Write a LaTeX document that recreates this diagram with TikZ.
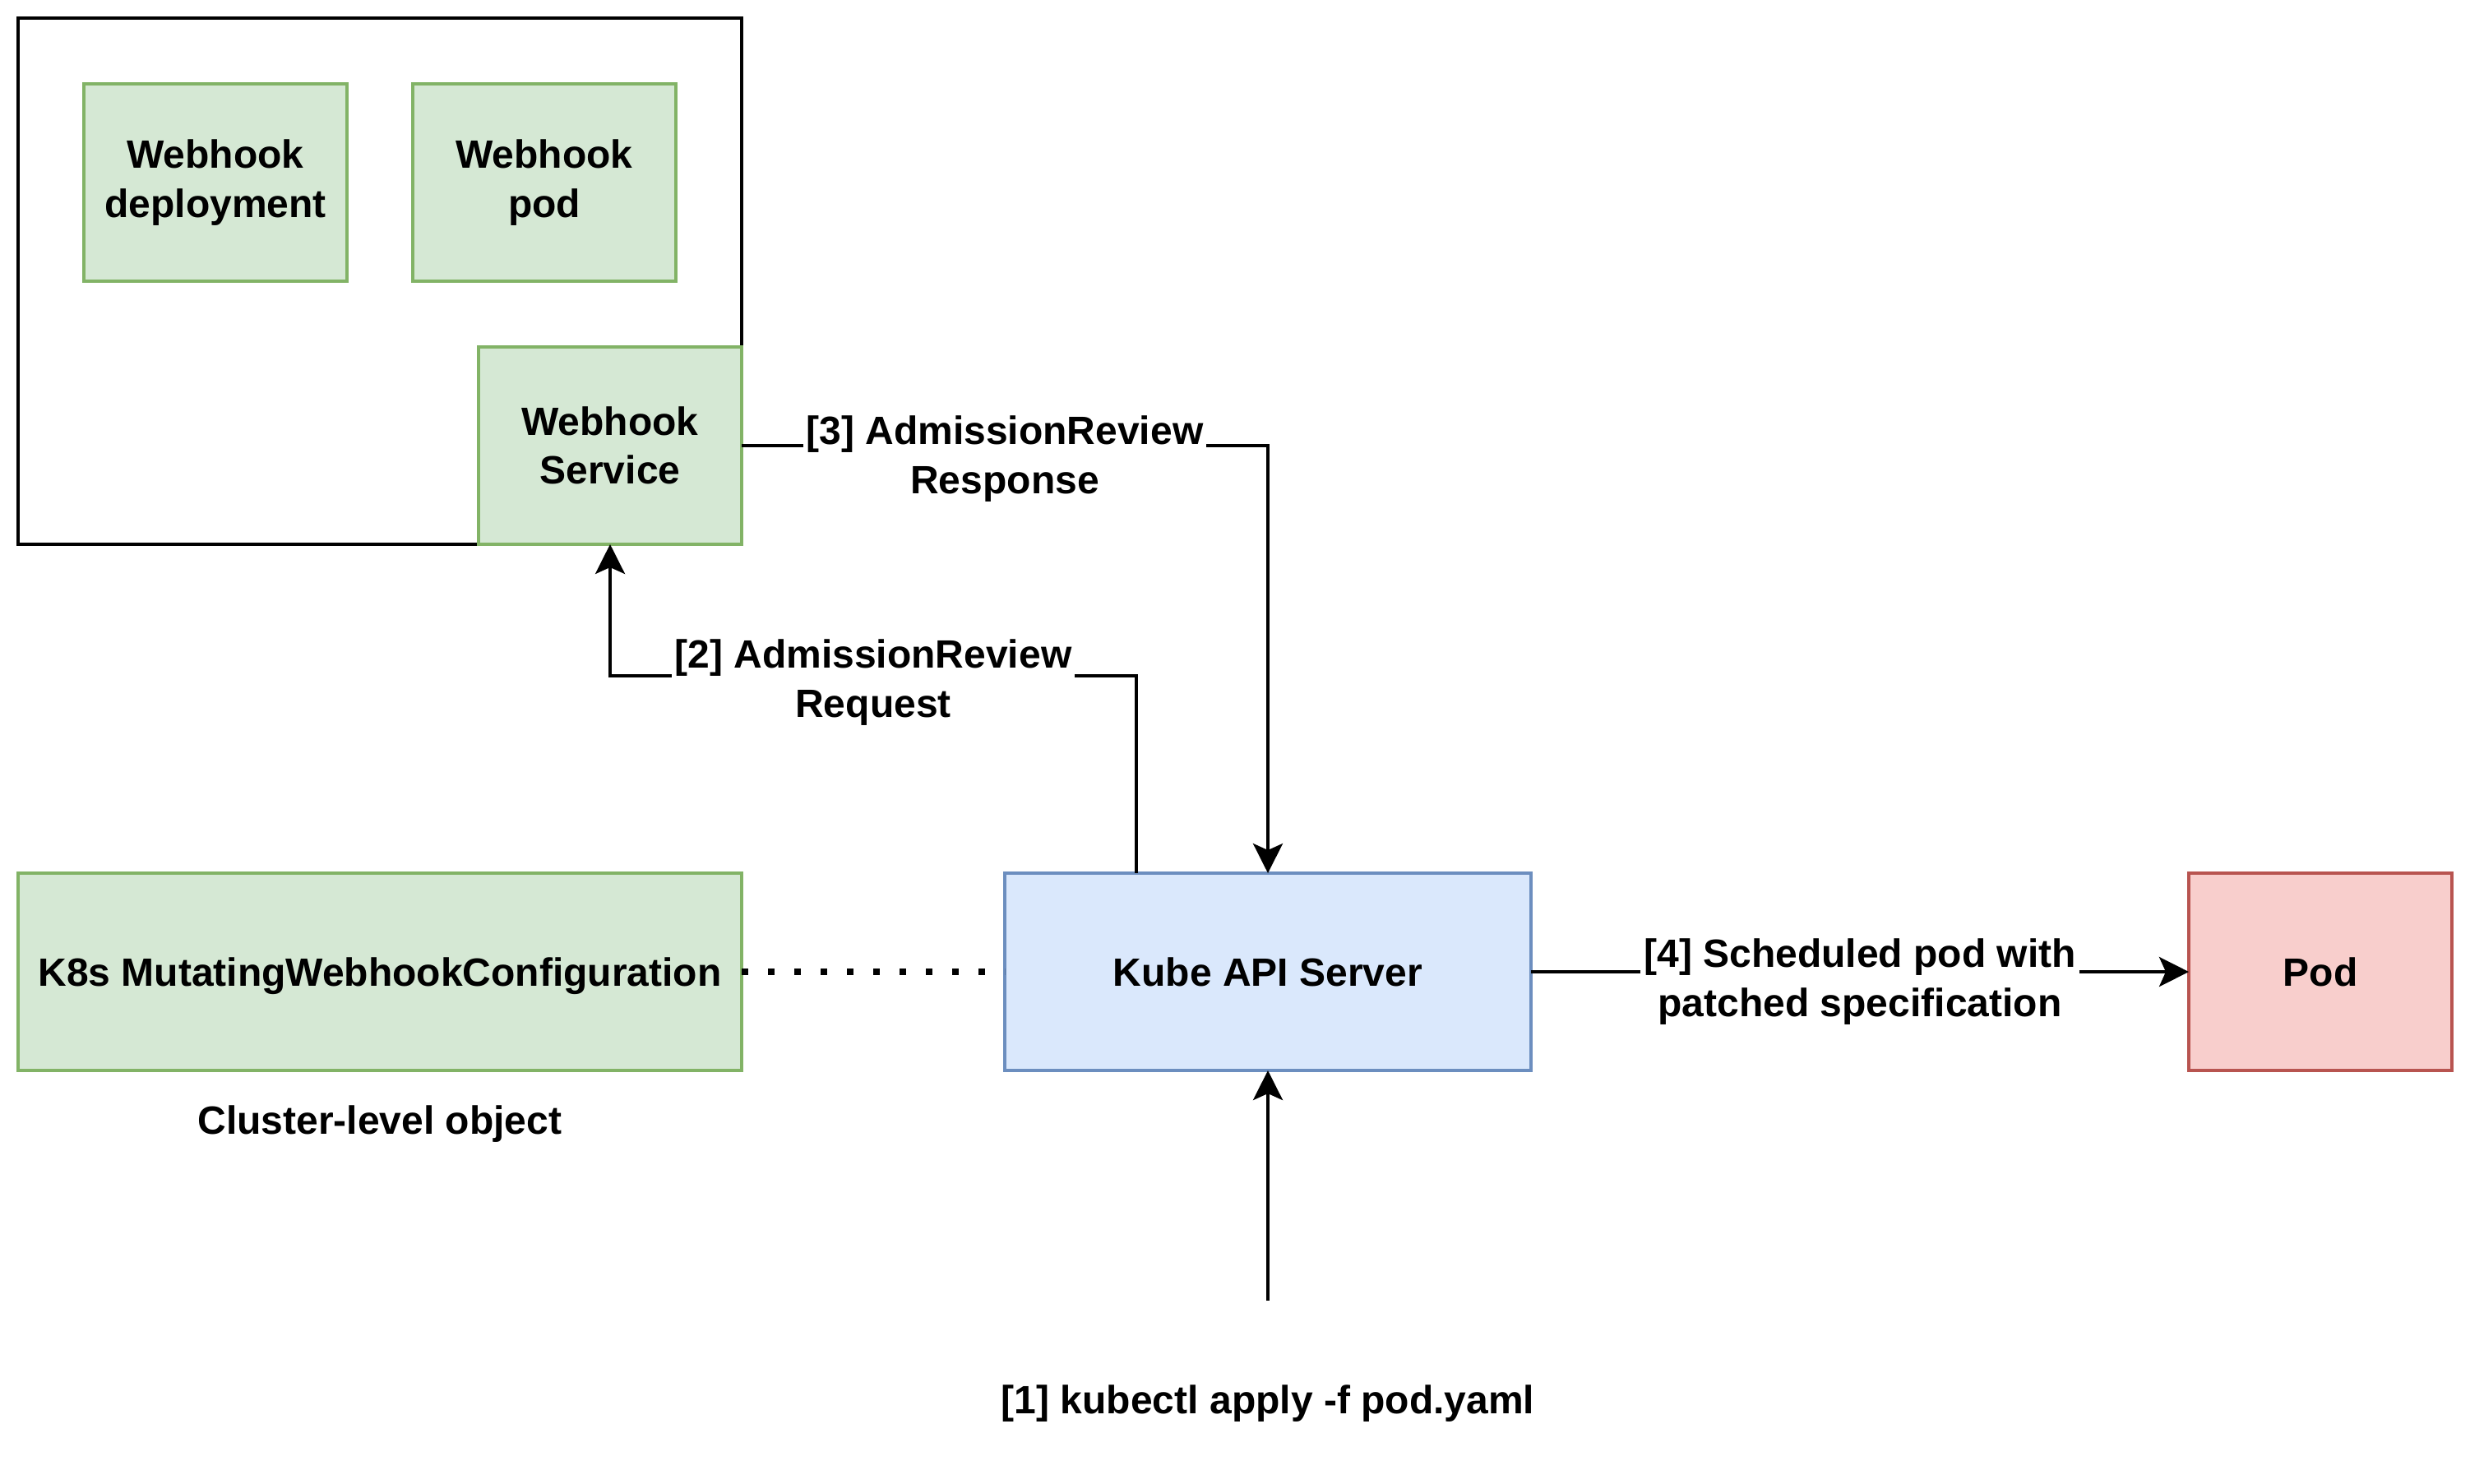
\documentclass[tikz,border=0pt]{standalone}
\usepackage{fontspec}
\setmainfont{Liberation Sans}
\usepackage{tikz}
\usetikzlibrary{arrows.meta}

\definecolor{verdefondo}{HTML}{D5E8D4}
\definecolor{verdeborde}{HTML}{82B366}
\definecolor{azulfondo}{HTML}{DAE8FC}
\definecolor{azulborde}{HTML}{6C8EBF}
\definecolor{rojofondo}{HTML}{F8CECC}
\definecolor{rojoborde}{HTML}{B85450}

\begin{document}
\begin{tikzpicture}[x=1pt, y=-1pt,
		letra/.style={font=\bfseries\fontsize{12pt}{14.8pt}\selectfont},
		caja/.style={rectangle, draw, line width=1pt, outer sep=0pt, inner sep=0pt, align=center, letra},
		verde/.style={caja, fill=verdefondo, draw=verdeborde},
		azul/.style={caja, fill=azulfondo, draw=azulborde},
		rojo/.style={caja, fill=rojofondo, draw=rojoborde},
		unalinea/.style={text height=8.7pt, text depth=0pt},
		texto/.style={letra, inner sep=1pt, unalinea},
		etiqueta/.style={letra, fill=white, inner sep=1pt, outer sep=0pt, align=center, yshift=-3pt},
		flecha/.style={line width=1pt, -{Stealth[length=9pt, width=9pt, inset=2pt]}},
		punteado/.style={line width=2pt, dash pattern=on 2pt off 6pt}]

		\useasboundingbox (0,0) rectangle (751,451);

		% Nodos
		\node[caja, minimum width=220pt, minimum height=160pt] (espacio) at (115.5,85.5) {};
		\node[verde, minimum width=80pt, minimum height=60pt] (deployment) at (65.5,55.5) {Webhook\\deployment};
		\node[verde, minimum width=80pt, minimum height=60pt] (webhookpod) at (165.5,55.5) {Webhook\\pod};
		\node[verde, minimum width=80pt, minimum height=60pt] (service) at (185.5,135.5) {Webhook\\Service};

		\node[verde, unalinea, minimum width=220pt, minimum height=60pt] (config) at (115.5,295.5) {K8s MutatingWebhookConfiguration};
		\node[azul, unalinea, minimum width=160pt, minimum height=60pt] (apiserver) at (385.5,295.5) {Kube API Server};
		\node[rojo, unalinea, minimum width=80pt, minimum height=60pt] (pod) at (705.5,295.5) {Pod};

		\node[texto] (nivel) at (115.5,340.5) {Cluster-level object};
		\node[texto] (kubectl) at (385.5,425.5) {[1] kubectl apply -f pod.yaml};
		\coordinate (inicio) at (385.5,395.5);

		% Aristas
		\draw[flecha] (inicio) -- (apiserver);
		\draw[flecha] ([xshift=-40pt]apiserver.north) -- ++(0,-60) -| node[etiqueta, pos=0.25, yshift=1pt] {[2] AdmissionReview\\Request} (service.south);
		\draw[flecha] (service.east) -| node[etiqueta, pos=0.25, yshift=-1pt] {[3] AdmissionReview\\Response} (apiserver.north);
		\draw[flecha] (apiserver.east) -- node[etiqueta] {[4] Scheduled pod with\\patched specification} (pod.west);
		\draw[punteado] (config.east) -- (apiserver.west);

	\end{tikzpicture}
\end{document}
